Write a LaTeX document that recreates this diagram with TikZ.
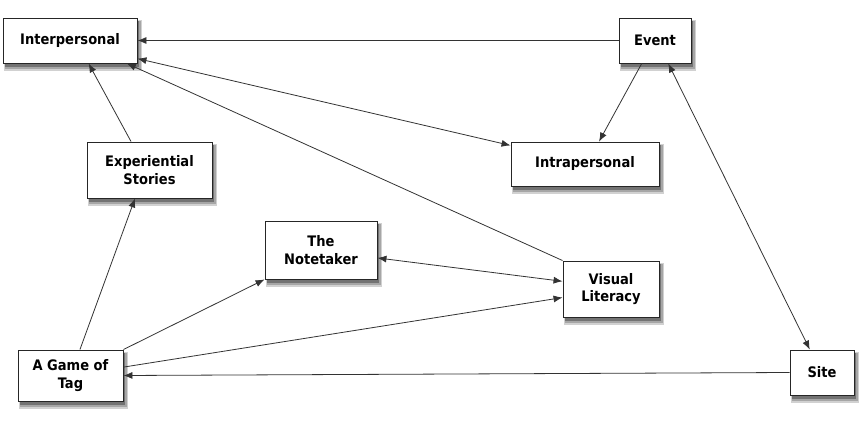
\documentclass[tikz,border=0pt]{standalone}
\usepackage{fontspec}
\setmainfont{DejaVu Sans Condensed}[BoldFont=DejaVu Sans Condensed Bold]
\usetikzlibrary{arrows.meta,calc,backgrounds}

\begin{document}
\begin{tikzpicture}[
    %–––– GLOBAL STYLE TWEAKS ––––
    x=1pt, y=-1pt,                                   % pixel-like coordinates
    font=\fontsize{14.5}{17.5}\selectfont\bfseries,
    >={Latex[length=9pt,width=7pt]},
    block/.style = {rectangle, draw=black!85, line width=0.9pt,
                    fill=white, align=center, inner sep=2pt},
    arrow/.style = {->, draw=black!80, line width=0.8pt},
    twoway/.style = {<->, draw=black!80, line width=0.8pt},
]
\useasboundingbox (0,0) rectangle (860,438);

%–––– NODES ––––
\node (interpersonal) [block, minimum width=134pt, minimum height=45pt] at (70,40.5)    {Interpersonal};
\node (event)         [block, minimum width=72pt,  minimum height=45pt] at (655,40.5)   {Event};
\node (intrapersonal) [block, minimum width=148pt, minimum height=44pt] at (585,164)    {Intrapersonal};
\node (experiential)  [block, minimum width=125pt, minimum height=56pt] at (149.5,170)  {Experiential\\Stories};
\node (notetaker)     [block, minimum width=112pt, minimum height=58pt] at (321,250)    {The\\Notetaker};
\node (visual)        [block, minimum width=96pt,  minimum height=56pt] at (611,289)    {Visual\\Literacy};
\node (gametag)       [block, minimum width=105pt, minimum height=51pt] at (70.5,375.5) {A Game of\\Tag};
\node (site)          [block, minimum width=64pt,  minimum height=45pt] at (822,372.5)  {Site};

%–––– SHADOWS ––––
\begin{scope}[on background layer]
  \foreach \n in {interpersonal,event,intrapersonal,experiential,
                  notetaker,visual,gametag,site} {
    \fill[black!18] ($(\n.north west)+(1,2)$) rectangle ($(\n.south east)+(5,8)$);
    \fill[black!35] ($(\n.north west)+(2,3)$) rectangle ($(\n.south east)+(4,6)$);
    \fill[black!55] ($(\n.north west)+(2,3)$) rectangle ($(\n.south east)+(2,4)$);
  }
\end{scope}

%–––– ARROWS ––––
\foreach \a/\b in {
  event.west/interpersonal.east, event.-120/intrapersonal.58,
  visual.north west/interpersonal.-22, experiential.123/interpersonal.-51,
  gametag.70/experiential.-117, gametag.north east/notetaker.south west,
  gametag.9/visual.190, site.west/gametag.east}
  \draw[arrow] (\a) -- (\b);

\foreach \a/\b in {
  interpersonal.-15/intrapersonal.166, event.-60/site.118,
  notetaker.-8/visual.171}
  \draw[twoway] (\a) -- (\b);
\end{tikzpicture}
\end{document}
